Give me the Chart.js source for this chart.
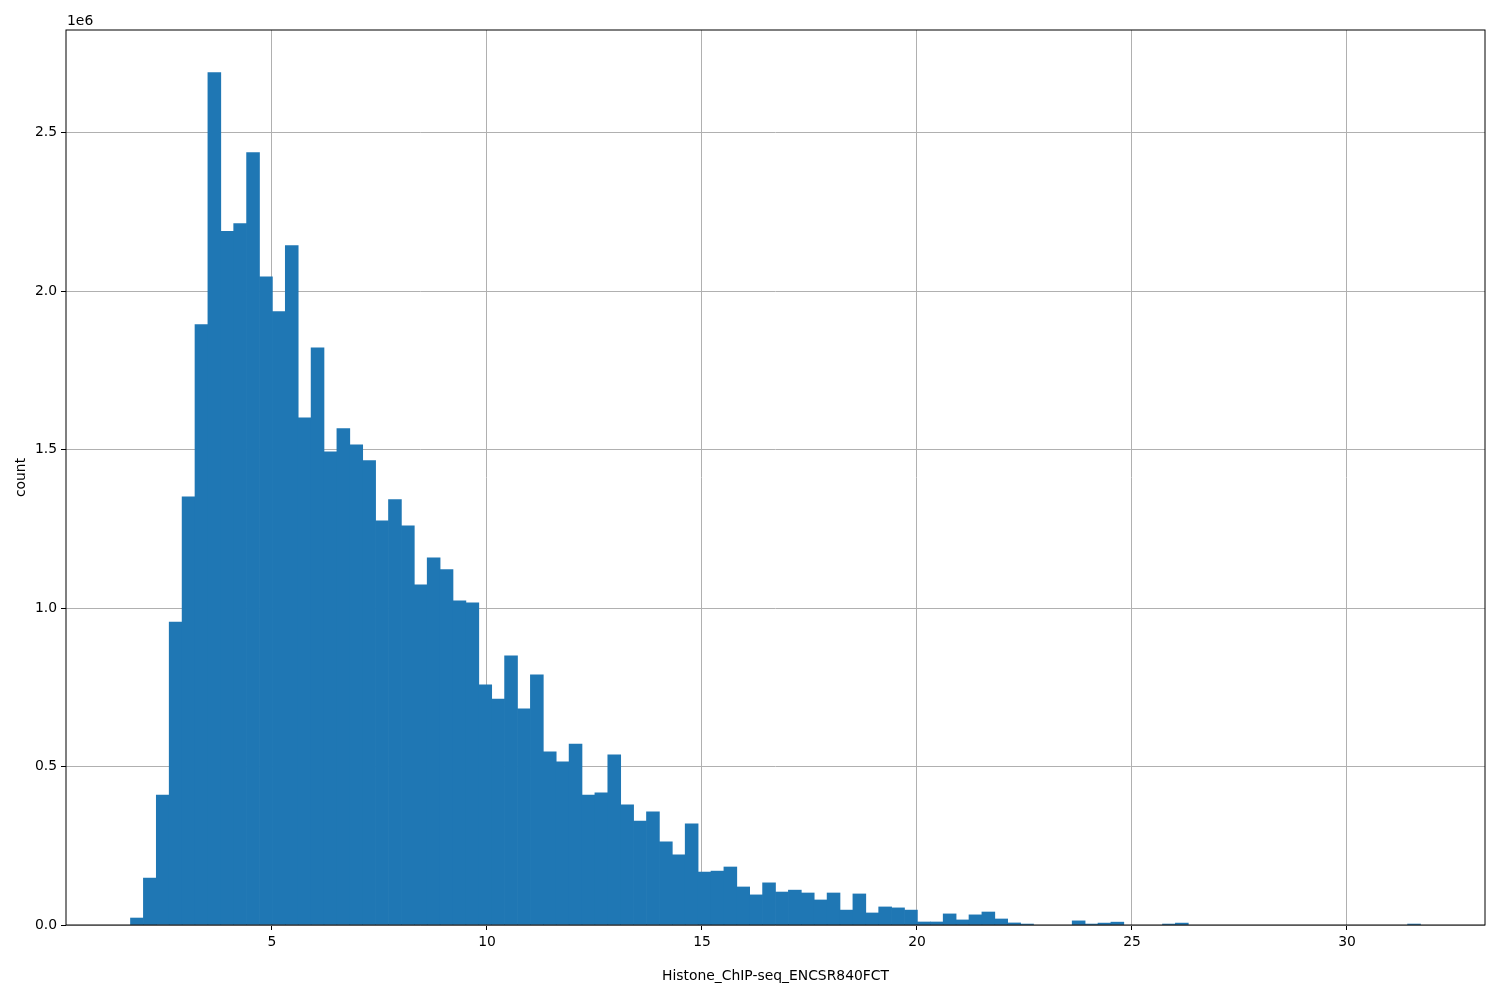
<!DOCTYPE html>
<html lang="en">

<head>
    <meta charset="UTF-8">
    <title>Histone_ChIP-seq_ENCSR840FCT</title>
    <script src="https://cdn.jsdelivr.net/npm/chart.js"></script>
    <style>
        body { margin: 0; background: #fff; }
        canvas { display: block; }
    </style>
</head>

<body>
    <canvas id="histChart" width="1500" height="1000"></canvas>

    <script>
        // histogram bins: left edge of the first bin and bin width
        const binStart = 1.71;
        const binWidth = 0.3;

        // counts per bin (100 bins)
        const counts = [
            22000, 148000, 410000, 956000, 1351000, 1894000, 2689000, 2188000, 2213000, 2437000,
            2045000, 1935000, 2143000, 1600000, 1821000, 1493000, 1566000, 1515000, 1465000, 1275000,
            1342000, 1259000, 1073000, 1158000, 1121000, 1023000, 1016000, 758000, 713000, 849000,
            682000, 789000, 546000, 515000, 571000, 410000, 417000, 537000, 379000, 328000,
            357000, 262000, 221000, 319000, 167000, 170000, 183000, 120000, 95000, 133000,
            104000, 110000, 101000, 79000, 101000, 47000, 98000, 38000, 57000, 54000,
            47000, 9500, 9500, 35000, 16000, 32000, 41000, 19000, 6500, 3000,
            0, 0, 0, 13000, 3000, 6000, 9000, 0, 0, 0,
            3000, 6000, 0, 0, 0, 0, 0, 0, 0, 0,
            0, 0, 0, 0, 0, 0, 0, 0, 0, 3000
        ];

        const xTicks = [5, 10, 15, 20, 25, 30];
        const yTicks = [0, 500000, 1000000, 1500000, 2000000, 2500000];

        const xLabel = 'Histone_ChIP-seq_ENCSR840FCT';
        const yLabel = 'count';

        // matplotlib-style 5% margins
        const binEnd = binStart + binWidth * counts.length;
        const xPad = (binEnd - binStart) * 0.05;
        const yMax = Math.max(...counts) * 1.05;

        const points = counts.map((c, i) => ({ x: binStart + binWidth * (i + 0.5), y: c }));

        const font = { family: '"DejaVu Sans", sans-serif', size: 13.9 };

        // black frame round the axes and the "1e6" offset text
        const framePlugin = {
            id: 'frame',
            afterDraw(chart) {
                const { ctx, chartArea: a } = chart;
                ctx.save();
                ctx.strokeStyle = '#000';
                ctx.lineWidth = 1;
                ctx.strokeRect(a.left, a.top, a.right - a.left, a.bottom - a.top);
                ctx.fillStyle = '#000';
                ctx.font = '13.9px "DejaVu Sans", sans-serif';
                ctx.textAlign = 'left';
                ctx.textBaseline = 'middle';
                ctx.fillText('1e6', a.left + 1, a.top - 9);
                ctx.restore();
            }
        };

        const ctx = document.getElementById('histChart').getContext('2d');
        new Chart(ctx, {
            type: 'bar',
            data: {
                datasets: [{
                    data: points,
                    backgroundColor: (c) => (c.raw && c.raw.y > 0) ? '#1f77b4' : 'rgba(0,0,0,0)',
                    borderWidth: 0,
                    barPercentage: 1,
                    categoryPercentage: 1
                }]
            },
            options: {
                responsive: false,
                devicePixelRatio: 1,
                animation: false,
                layout: { padding: { top: 30, right: 15, left: 0, bottom: 0 } },
                plugins: {
                    legend: { display: false },
                    tooltip: { enabled: false }
                },
                scales: {
                    x: {
                        type: 'linear',
                        min: binStart - xPad,
                        max: binEnd + xPad,
                        offset: false,
                        z: 1,
                        afterFit: (scale) => { scale.height = 75; },
                        afterBuildTicks: (scale) => { scale.ticks = xTicks.map(v => ({ value: v })); },
                        grid: { offset: false, color: '#b0b0b0', lineWidth: 1, tickColor: '#000', tickLength: 5 },
                        border: { display: false },
                        ticks: { color: '#000', font: font, padding: 4, callback: (v) => String(v) },
                        title: { display: true, text: xLabel, color: '#000', font: font, padding: { top: 15, bottom: 15 } }
                    },
                    y: {
                        min: 0,
                        max: yMax,
                        z: 1,
                        afterFit: (scale) => { scale.width = 66; },
                        afterBuildTicks: (scale) => { scale.ticks = yTicks.map(v => ({ value: v })); },
                        grid: { color: '#b0b0b0', lineWidth: 1, tickColor: '#000', tickLength: 5 },
                        border: { display: false },
                        ticks: { color: '#000', font: font, padding: 4, callback: (v) => (v / 1e6).toFixed(1) },
                        title: { display: true, text: yLabel, color: '#000', font: font, padding: { top: 13, bottom: 13 } }
                    }
                }
            },
            plugins: [framePlugin]
        });
    </script>
</body>

</html>
